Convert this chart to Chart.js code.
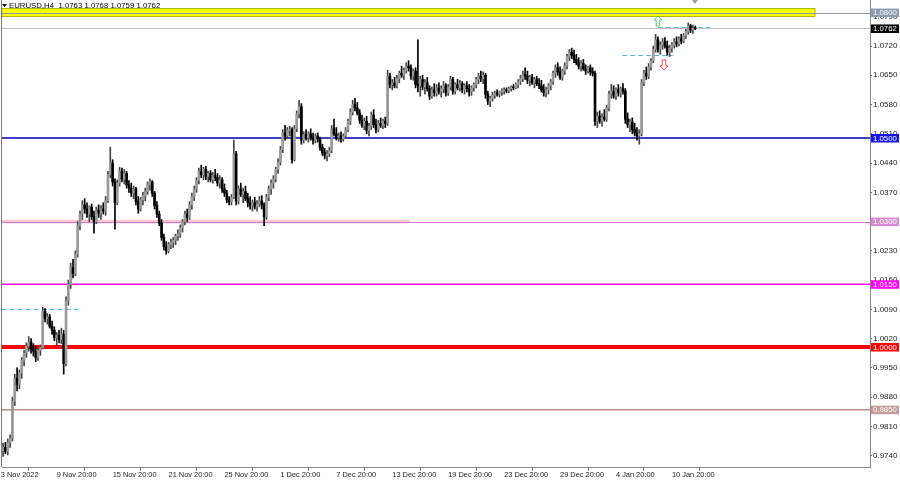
<!DOCTYPE html>
<html><head><meta charset="utf-8">
<script src="https://cdn.jsdelivr.net/npm/chart.js@4.4.1/dist/chart.umd.min.js"></script>
<style>html,body{margin:0;padding:0;background:#fff;}canvas{display:block}</style>
</head><body>
<canvas id="c" width="900" height="480"></canvas>
<script>
// ---------- data ----------
const symbolTitle = "EURUSD,H4";
const lastQuote = [1.0763, 1.0768, 1.0759, 1.0762];
const tickBars = [0,24,48,72,96,120,144,168,192,216,240,264,288];
const tickLabels = ["3 Nov 2022","9 Nov 20:00","15 Nov 20:00","21 Nov 20:00","25 Nov 20:00","1 Dec 20:00","7 Dec 20:00","13 Dec 20:00","19 Dec 20:00","23 Dec 20:00","29 Dec 20:00","4 Jan 20:00","10 Jan 20:00"];
const priceTicks = [0.9740,0.9810,0.9880,0.9950,1.0020,1.0090,1.0160,1.0230,1.0300,1.0370,1.0440,1.0510,1.0580,1.0650,1.0720,1.0790];

const closes = [0.9752,
0.9760,0.9750,0.9772,0.9782,0.9870,0.9925,0.9910,0.9938,0.9968,0.9985,
1.0002,1.0012,0.9995,0.9990,0.9975,0.9992,0.9998,1.0085,1.0068,1.0072,
1.0050,1.0040,1.0022,1.0028,1.0018,1.0030,0.9960,1.0110,1.0150,1.0190,
1.0175,1.0222,1.0290,1.0318,1.0340,1.0330,1.0318,1.0335,1.0312,1.0300,
1.0328,1.0320,1.0330,1.0325,1.0350,1.0412,1.0440,1.0395,1.0345,1.0392,
1.0420,1.0402,1.0415,1.0388,1.0380,1.0368,1.0378,1.0348,1.0330,1.0352,
1.0362,1.0372,1.0388,1.0395,1.0368,1.0338,1.0318,1.0296,1.0262,1.0240,
1.0230,1.0245,1.0250,1.0255,1.0265,1.0270,1.0285,1.0300,1.0318,1.0310,
1.0340,1.0360,1.0378,1.0398,1.0420,1.0412,1.0425,1.0408,1.0415,1.0400,
1.0410,1.0405,1.0392,1.0400,1.0378,1.0368,1.0352,1.0348,1.0358,1.0462,
1.0350,1.0378,1.0365,1.0372,1.0355,1.0345,1.0338,1.0345,1.0335,1.0342,
1.0350,1.0340,1.0312,1.0358,1.0378,1.0392,1.0402,1.0425,1.0442,1.0472,
1.0512,1.0505,1.0518,1.0520,1.0448,1.0522,1.0558,1.0575,1.0495,1.0508,
1.0500,1.0510,1.0502,1.0495,1.0505,1.0498,1.0478,1.0465,1.0458,1.0462,
1.0470,1.0522,1.0510,1.0502,1.0505,1.0498,1.0505,1.0520,1.0540,1.0562,
1.0580,1.0572,1.0560,1.0542,1.0530,1.0540,1.0518,1.0528,1.0555,1.0532,
1.0520,1.0535,1.0530,1.0540,1.0535,1.0648,1.0628,1.0632,1.0625,1.0642,
1.0655,1.0650,1.0662,1.0672,1.0668,1.0648,1.0660,1.0628,1.0625,1.0640,
1.0622,1.0632,1.0618,1.0600,1.0615,1.0608,1.0620,1.0612,1.0618,1.0625,
1.0608,1.0622,1.0640,1.0612,1.0628,1.0620,1.0630,1.0615,1.0625,1.0618,
1.0610,1.0620,1.0628,1.0640,1.0648,1.0642,1.0650,1.0605,1.0588,1.0595,
1.0602,1.0608,1.0605,1.0610,1.0612,1.0615,1.0612,1.0618,1.0622,1.0620,
1.0628,1.0635,1.0642,1.0652,1.0648,1.0638,1.0645,1.0632,1.0640,1.0630,
1.0625,1.0615,1.0608,1.0615,1.0625,1.0635,1.0655,1.0668,1.0658,1.0645,
1.0660,1.0672,1.0695,1.0705,1.0698,1.0688,1.0680,1.0672,1.0678,1.0665,
1.0660,1.0668,1.0658,1.0655,1.0540,1.0552,1.0540,1.0550,1.0545,1.0572,
1.0605,1.0612,1.0600,1.0615,1.0608,1.0618,1.0612,1.0545,1.0532,1.0538,
1.0520,1.0512,1.0505,1.0510,1.0632,1.0655,1.0648,1.0670,1.0685,1.0712,
1.0735,1.0712,1.0722,1.0730,1.0720,1.0705,1.0715,1.0722,1.0730,1.0725,
1.0738,1.0732,1.0745,1.0755,1.0768,1.0758,1.0763,1.0762];

const opens = [0.9748,0.9752,
0.9760,0.9750,0.9772,0.9782,0.9870,0.9925,0.9910,0.9938,0.9968,0.9985,
1.0002,1.0012,0.9995,0.9990,0.9975,0.9992,0.9998,1.0085,1.0068,1.0072,
1.0050,1.0040,1.0022,1.0028,1.0018,1.0030,0.9960,1.0110,1.0150,1.0190,
1.0175,1.0222,1.0290,1.0318,1.0340,1.0330,1.0318,1.0335,1.0312,1.0300,
1.0328,1.0320,1.0330,1.0325,1.0350,1.0412,1.0440,1.0395,1.0345,1.0392,
1.0420,1.0402,1.0415,1.0388,1.0380,1.0368,1.0378,1.0348,1.0330,1.0352,
1.0362,1.0372,1.0388,1.0395,1.0368,1.0338,1.0318,1.0296,1.0262,1.0240,
1.0230,1.0245,1.0250,1.0255,1.0265,1.0270,1.0285,1.0300,1.0318,1.0310,
1.0340,1.0360,1.0378,1.0398,1.0420,1.0412,1.0425,1.0408,1.0415,1.0400,
1.0410,1.0405,1.0392,1.0400,1.0378,1.0368,1.0352,1.0348,1.0358,1.0462,
1.0350,1.0378,1.0365,1.0372,1.0355,1.0345,1.0338,1.0345,1.0335,1.0342,
1.0350,1.0340,1.0312,1.0358,1.0378,1.0392,1.0402,1.0425,1.0442,1.0472,
1.0512,1.0505,1.0518,1.0520,1.0448,1.0522,1.0558,1.0575,1.0495,1.0508,
1.0500,1.0510,1.0502,1.0495,1.0505,1.0498,1.0478,1.0465,1.0458,1.0462,
1.0470,1.0522,1.0510,1.0502,1.0505,1.0498,1.0505,1.0520,1.0540,1.0562,
1.0580,1.0572,1.0560,1.0542,1.0530,1.0540,1.0518,1.0528,1.0555,1.0532,
1.0520,1.0535,1.0530,1.0540,1.0535,1.0648,1.0628,1.0632,1.0625,1.0642,
1.0655,1.0650,1.0662,1.0672,1.0668,1.0648,1.0660,1.0628,1.0625,1.0640,
1.0622,1.0632,1.0618,1.0600,1.0615,1.0608,1.0620,1.0612,1.0618,1.0625,
1.0608,1.0622,1.0640,1.0612,1.0628,1.0620,1.0630,1.0615,1.0625,1.0618,
1.0610,1.0620,1.0628,1.0640,1.0648,1.0642,1.0650,1.0605,1.0588,1.0595,
1.0602,1.0608,1.0605,1.0610,1.0612,1.0615,1.0612,1.0618,1.0622,1.0620,
1.0628,1.0635,1.0642,1.0652,1.0648,1.0638,1.0645,1.0632,1.0640,1.0630,
1.0625,1.0615,1.0608,1.0615,1.0625,1.0635,1.0655,1.0668,1.0658,1.0645,
1.0660,1.0672,1.0695,1.0705,1.0698,1.0688,1.0680,1.0672,1.0678,1.0665,
1.0660,1.0668,1.0658,1.0655,1.0540,1.0552,1.0540,1.0550,1.0545,1.0572,
1.0605,1.0612,1.0600,1.0615,1.0608,1.0618,1.0612,1.0545,1.0532,1.0538,
1.0520,1.0512,1.0505,1.0510,1.0632,1.0655,1.0648,1.0670,1.0685,1.0712,
1.0735,1.0712,1.0722,1.0730,1.0720,1.0705,1.0715,1.0722,1.0730,1.0725,
1.0738,1.0732,1.0745,1.0755,1.0768,1.0758,1.0763];

const highs = [0.9760,
0.9770,0.9772,0.9780,0.9790,0.9880,0.9935,0.9950,0.9945,0.9975,0.9992,
1.0010,1.0025,1.0020,1.0008,1.0002,0.9998,1.0005,1.0095,1.0092,1.0080,
1.0078,1.0062,1.0048,1.0035,1.0040,1.0045,1.0040,1.0120,1.0160,1.0200,
1.0210,1.0230,1.0300,1.0325,1.0350,1.0355,1.0345,1.0338,1.0342,1.0325,
1.0335,1.0340,1.0338,1.0345,1.0360,1.0420,1.0478,1.0448,1.0402,1.0400,
1.0430,1.0428,1.0425,1.0420,1.0398,1.0392,1.0385,1.0382,1.0360,1.0358,
1.0370,1.0380,1.0395,1.0402,1.0398,1.0372,1.0348,1.0325,1.0305,1.0270,
1.0252,1.0250,1.0258,1.0262,1.0270,1.0280,1.0292,1.0305,1.0325,1.0330,
1.0348,1.0368,1.0385,1.0405,1.0428,1.0435,1.0430,1.0432,1.0420,1.0422,
1.0418,1.0425,1.0415,1.0410,1.0405,1.0390,1.0375,1.0360,1.0365,1.0495,
1.0468,1.0385,1.0392,1.0380,1.0385,1.0368,1.0360,1.0352,1.0358,1.0350,
1.0360,1.0362,1.0345,1.0365,1.0385,1.0400,1.0410,1.0430,1.0450,1.0480,
1.0520,1.0530,1.0525,1.0528,1.0525,1.0530,1.0565,1.0590,1.0582,1.0515,
1.0520,1.0515,1.0522,1.0512,1.0510,1.0512,1.0502,1.0485,1.0475,1.0470,
1.0478,1.0530,1.0545,1.0525,1.0512,1.0515,1.0510,1.0525,1.0545,1.0570,
1.0590,1.0595,1.0585,1.0568,1.0555,1.0548,1.0552,1.0535,1.0562,1.0568,
1.0545,1.0542,1.0548,1.0545,1.0550,1.0662,1.0655,1.0640,1.0645,1.0650,
1.0660,1.0672,1.0668,1.0680,1.0685,1.0675,1.0665,1.0668,1.0735,1.0648,
1.0650,1.0640,1.0645,1.0625,1.0622,1.0630,1.0628,1.0632,1.0625,1.0635,
1.0630,1.0628,1.0648,1.0645,1.0632,1.0640,1.0638,1.0635,1.0630,1.0635,
1.0628,1.0625,1.0632,1.0645,1.0655,1.0660,1.0658,1.0655,1.0612,1.0600,
1.0610,1.0612,1.0615,1.0612,1.0618,1.0620,1.0620,1.0622,1.0625,1.0628,
1.0632,1.0640,1.0650,1.0660,1.0668,1.0660,1.0650,1.0652,1.0645,1.0648,
1.0642,1.0638,1.0628,1.0622,1.0630,1.0640,1.0660,1.0675,1.0680,1.0670,
1.0665,1.0680,1.0700,1.0712,1.0715,1.0710,1.0700,1.0692,1.0685,1.0688,
1.0675,1.0672,1.0675,1.0668,1.0660,1.0562,1.0565,1.0558,1.0568,1.0578,
1.0612,1.0628,1.0625,1.0620,1.0628,1.0622,1.0630,1.0618,1.0560,1.0545,
1.0548,1.0535,1.0525,1.0520,1.0640,1.0662,1.0670,1.0678,1.0690,1.0720,
1.0748,1.0742,1.0730,1.0738,1.0740,1.0732,1.0722,1.0728,1.0738,1.0742,
1.0742,1.0748,1.0750,1.0760,1.0775,1.0772,1.0770,1.0768];

const lows = [0.9730,
0.9738,0.9745,0.9742,0.9760,0.9775,0.9860,0.9895,0.9900,0.9925,0.9955,
0.9975,0.9990,0.9985,0.9978,0.9965,0.9968,0.9980,0.9995,1.0060,1.0055,
1.0045,1.0030,1.0015,1.0005,1.0010,1.0008,0.9935,0.9955,1.0100,1.0140,
1.0165,1.0170,1.0215,1.0280,1.0305,1.0320,1.0310,1.0300,1.0305,1.0272,
1.0295,1.0310,1.0305,1.0318,1.0315,1.0345,1.0405,1.0385,1.0282,1.0340,
1.0385,1.0395,1.0390,1.0380,1.0370,1.0360,1.0355,1.0340,1.0320,1.0325,
1.0340,1.0350,1.0365,1.0375,1.0360,1.0330,1.0310,1.0290,1.0255,1.0232,
1.0222,1.0225,1.0235,1.0238,1.0245,1.0255,1.0262,1.0275,1.0292,1.0300,
1.0305,1.0330,1.0350,1.0370,1.0390,1.0405,1.0400,1.0400,1.0395,1.0395,
1.0392,1.0398,1.0385,1.0380,1.0370,1.0360,1.0345,1.0340,1.0340,1.0355,
1.0340,1.0342,1.0360,1.0345,1.0350,1.0335,1.0330,1.0325,1.0330,1.0325,
1.0335,1.0330,1.0290,1.0305,1.0350,1.0365,1.0380,1.0395,1.0415,1.0435,
1.0465,1.0495,1.0498,1.0505,1.0440,1.0445,1.0515,1.0548,1.0485,1.0488,
1.0495,1.0490,1.0495,1.0485,1.0488,1.0490,1.0470,1.0458,1.0450,1.0445,
1.0455,1.0465,1.0505,1.0495,1.0492,1.0490,1.0492,1.0500,1.0515,1.0532,
1.0555,1.0565,1.0555,1.0535,1.0525,1.0520,1.0510,1.0505,1.0520,1.0525,
1.0512,1.0515,1.0525,1.0522,1.0525,1.0530,1.0620,1.0615,1.0620,1.0620,
1.0632,1.0645,1.0640,1.0655,1.0660,1.0640,1.0638,1.0620,1.0610,1.0600,
1.0615,1.0605,1.0612,1.0592,1.0595,1.0600,1.0600,1.0605,1.0598,1.0608,
1.0600,1.0602,1.0615,1.0605,1.0605,1.0615,1.0612,1.0608,1.0605,1.0610,
1.0600,1.0602,1.0612,1.0620,1.0630,1.0635,1.0630,1.0595,1.0580,1.0575,
1.0588,1.0595,1.0600,1.0598,1.0602,1.0605,1.0608,1.0608,1.0612,1.0615,
1.0618,1.0620,1.0628,1.0635,1.0640,1.0630,1.0625,1.0628,1.0620,1.0625,
1.0618,1.0610,1.0600,1.0598,1.0605,1.0615,1.0628,1.0645,1.0650,1.0640,
1.0638,1.0652,1.0665,1.0685,1.0690,1.0680,1.0675,1.0665,1.0660,1.0662,
1.0652,1.0655,1.0650,1.0648,1.0530,1.0525,1.0535,1.0528,1.0540,1.0540,
1.0565,1.0595,1.0595,1.0592,1.0600,1.0598,1.0605,1.0535,1.0525,1.0515,
1.0510,1.0505,1.0495,1.0485,1.0505,1.0625,1.0640,1.0642,1.0662,1.0680,
1.0705,1.0705,1.0700,1.0712,1.0715,1.0698,1.0695,1.0705,1.0715,1.0718,
1.0720,1.0725,1.0728,1.0738,1.0748,1.0752,1.0750,1.0759];

// horizontal levels drawn on the chart
const levelValues = [1.0800, 1.0762, 1.0500, 1.0300, 1.0150, 1.0000, 0.9850];
// zones / dashed lines / arrows (data units: bar index, price)
const yellowZone = {bar0: 0.5, bar1: 349.4, lo: 1.0790, hi: 1.0810};
const pinkZone = {bar0: 0.5, bar1: 175.6, lo: 1.0297, hi: 1.0303};
const dashedLevels = [
  {price: 1.0091, bar0: 0.5, bar1: 34.9},
  {price: 1.0699, bar0: 266.6, bar1: 288.5},
  {price: 1.0766, bar0: 282.0, bar1: 304.4}
];
const arrowMarks = [
  {bar: 282.0, price: 1.0780, dir: 'up'},
  {bar: 284.6, price: 1.0675, dir: 'down'}
];

// ---------- styles ----------
const FONT = 'Liberation Sans';
const levelStyles = [
  {line:'#8896a8', w:1,   box:'#8d9bb0', text:'#ffffff'},
  {line:'#c0c0c0', w:1,   box:'#000000', text:'#ffffff'},
  {line:'#0000b0', w:1.5, box:'#1515e6', text:'#ffffff'},
  {line:'#d77ad0', w:1,   box:'#d88ad2', text:'#ffffff'},
  {line:'#ff00ff', w:1.5, box:'#ff00ff', text:'#ffffff'},
  {line:'#ff0000', w:4,   box:'#ff0000', text:'#ffffff'},
  {line:'#c08e8e', w:1.5, box:'#c49a9a', text:'#ffffff'}
];

const wickData = [], bodyData = [], wickCol = [], bodyCol = [];
for (let i = 0; i < closes.length; i++) {
  const up = closes[i] >= opens[i];
  wickData.push({x: i, y: [lows[i], highs[i]]});
  bodyData.push({x: i, y: [opens[i], closes[i]]});
  wickCol.push(up ? '#444444' : '#000000');
  bodyCol.push(up ? '#9a9a9a' : '#000000');
}

const overlay = {
  id: 'overlay',
  beforeDatasetsDraw(chart) {
    const {ctx, chartArea: a, scales: {x, y}} = chart;
    ctx.save();
    ctx.beginPath(); ctx.rect(a.left, a.top, a.right - a.left, a.bottom - a.top); ctx.clip();
    // yellow zone
    let x0 = x.getPixelForValue(yellowZone.bar0), x1 = x.getPixelForValue(yellowZone.bar1);
    let yh = y.getPixelForValue(yellowZone.hi), yl = y.getPixelForValue(yellowZone.lo);
    ctx.fillStyle = '#ffff00'; ctx.fillRect(x0, yh, x1 - x0, yl - yh);
    ctx.strokeStyle = '#b8b800'; ctx.lineWidth = 1; ctx.strokeRect(x0, Math.round(yh) + 0.5, x1 - x0, Math.round(yl - yh));
    // pink zone
    x0 = x.getPixelForValue(pinkZone.bar0); x1 = x.getPixelForValue(pinkZone.bar1);
    yh = y.getPixelForValue(pinkZone.hi); yl = y.getPixelForValue(pinkZone.lo);
    ctx.fillStyle = '#f7c6d6'; ctx.fillRect(x0, yh - 0.5, x1 - x0, yl - yh + 1);
    // levels
    levelValues.forEach((v, k) => {
      const st = levelStyles[k];
      let py = y.getPixelForValue(v);
      if (st.w === 1) py = Math.round(py) + 0.5;
      ctx.strokeStyle = st.line; ctx.lineWidth = st.w;
      ctx.beginPath(); ctx.moveTo(a.left, py); ctx.lineTo(a.right, py); ctx.stroke();
    });
    // dashed lines
    ctx.strokeStyle = '#5cc0c6'; ctx.lineWidth = 1; ctx.setLineDash([5, 3]);
    dashedLevels.forEach(d => {
      const py = Math.round(y.getPixelForValue(d.price)) + 0.5;
      ctx.beginPath(); ctx.moveTo(x.getPixelForValue(d.bar0), py); ctx.lineTo(x.getPixelForValue(d.bar1), py); ctx.stroke();
    });
    ctx.setLineDash([]);
    ctx.restore();
  },
  afterDraw(chart) {
    const {ctx, chartArea: a, scales: {x, y}} = chart;
    ctx.save();
    // frame
    ctx.strokeStyle = '#7a7a7a'; ctx.lineWidth = 1;
    ctx.beginPath(); ctx.moveTo(a.left - 0.5, 0); ctx.lineTo(a.left - 0.5, a.bottom); ctx.stroke();
    // arrows
    arrowMarks.forEach(m => {
      const cx = x.getPixelForValue(m.bar), cy = y.getPixelForValue(m.price);
      const s = m.dir === 'up' ? -1 : 1;
      ctx.strokeStyle = m.dir === 'up' ? '#5fd25f' : '#e84a4a'; ctx.lineWidth = 1;
      ctx.beginPath();
      ctx.moveTo(cx, cy + s * 5);
      ctx.lineTo(cx + 4, cy + s * 1);
      ctx.lineTo(cx + 1.8, cy + s * 1);
      ctx.lineTo(cx + 1.8, cy - s * 5);
      ctx.lineTo(cx - 1.8, cy - s * 5);
      ctx.lineTo(cx - 1.8, cy + s * 1);
      ctx.lineTo(cx - 4, cy + s * 1);
      ctx.closePath(); ctx.stroke();
    });
    // shift marker
    ctx.fillStyle = '#a0a0a0';
    ctx.beginPath(); ctx.moveTo(692, 0); ctx.lineTo(698, 0); ctx.lineTo(695, 4); ctx.closePath(); ctx.fill();
    // price boxes on the axis
    ctx.font = '7.8px "' + FONT + '"'; ctx.textBaseline = 'middle'; ctx.textAlign = 'left';
    levelValues.forEach((v, k) => {
      const st = levelStyles[k];
      const py = y.getPixelForValue(v);
      ctx.fillStyle = st.box; ctx.fillRect(a.right + 1, py - 4, 900 - a.right - 2, 8.5);
      ctx.fillStyle = st.text; ctx.fillText(v.toFixed(4), a.right + 3, py + 0.5);
    });
    // header
    ctx.fillStyle = '#000';
    ctx.beginPath(); ctx.moveTo(2, 4); ctx.lineTo(7, 4); ctx.lineTo(4.5, 7); ctx.closePath(); ctx.fill();
    ctx.font = '7.8px "' + FONT + '"'; ctx.textBaseline = 'middle';
    ctx.fillText(symbolTitle + '  ' + lastQuote.map(q => q.toFixed(4)).join(' '), 9, 6);
    ctx.restore();
  }
};

Chart.defaults.font.family = FONT;
new Chart(document.getElementById('c'), {
  type: 'bar',
  data: {
    datasets: [
      {data: bodyData, backgroundColor: bodyCol, barThickness: 2, minBarLength: 1, grouped: false, order: 1},
      {data: wickData, backgroundColor: wickCol, barThickness: 1, grouped: false, order: 2}
    ]
  },
  options: {
    responsive: false, animation: false,
    layout: {padding: {left: 2, top: 0, right: 0, bottom: 0}},
    plugins: {legend: {display: false}, tooltip: {enabled: false}},
    scales: {
      x: {
        type: 'linear', min: 0.5278, max: 373.0, offset: false,
        grid: {display: true, drawOnChartArea: false, drawTicks: true, tickLength: 4, color: '#777'},
        border: {display: true, color: '#8a8a8a'},
        ticks: {autoSkip: false, maxRotation: 0, align: 'start', padding: 0, color: '#222',
                font: {size: 7.4, family: FONT},
                callback: (v) => { const k = tickBars.indexOf(v); return k >= 0 ? tickLabels[k] : ''; }},
        afterBuildTicks: s => { s.ticks = tickBars.map(v => ({value: v})); },
        afterFit: s => { s.height = 13; s.paddingLeft = 0; s.paddingRight = 0; }
      },
      y: {
        position: 'right', min: 0.97129, max: 1.08301,
        grid: {display: true, drawOnChartArea: false, drawTicks: true, tickLength: 2, color: '#666'},
        border: {display: true, color: '#8a8a8a'},
        ticks: {autoSkip: false, padding: 1, color: '#222', font: {size: 8, family: FONT},
                callback: v => Number(v).toFixed(4)},
        afterBuildTicks: s => { s.ticks = priceTicks.map(v => ({value: v})); },
        afterFit: s => { s.width = 30; s.paddingTop = 0; s.paddingBottom = 0; }
      }
    }
  },
  plugins: [overlay]
});
</script>
</body></html>
